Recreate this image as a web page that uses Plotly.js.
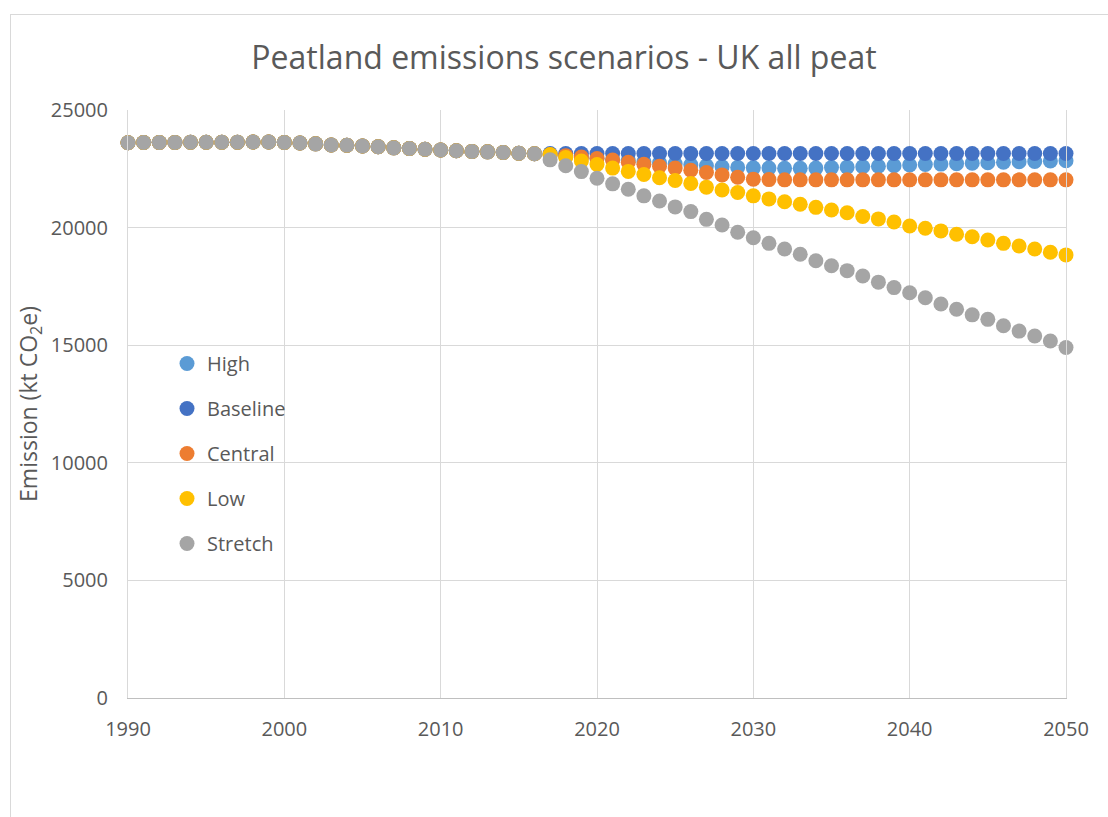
<!DOCTYPE html>
<html>
<head>
<meta charset="utf-8">
<script src="https://cdn.plot.ly/plotly-3.0.1.min.js"></script>
<style>
  html, body { margin: 0; padding: 0; background: #ffffff; overflow: hidden; }
  #frame { position: absolute; left: 10px; top: 14px; width: 1300px; height: 1000px; border: 1px solid #d9d9d9; box-sizing: border-box; z-index: 0; }
  #chart { position: absolute; left: 0; top: 0; width: 1108px; height: 817px; z-index: 1; }
</style>
</head>
<body>
<div id="frame"></div>
<div id="chart"></div>
<script>
// Shared history 1990-2016
var historyYears = [1990,1991,1992,1993,1994,1995,1996,1997,1998,1999,2000,2001,2002,2003,2004,2005,2006,2007,2008,2009,2010,2011,2012,2013,2014,2015,2016];
var historyValues = [23610,23620,23620,23620,23630,23630,23630,23630,23640,23640,23620,23600,23560,23510,23500,23470,23440,23390,23360,23330,23300,23270,23240,23220,23190,23160,23140];

// Projection years 2017-2050
var projectionYears = [2017,2018,2019,2020,2021,2022,2023,2024,2025,2026,2027,2028,2029,2030,2031,2032,2033,2034,2035,2036,2037,2038,2039,2040,2041,2042,2043,2044,2045,2046,2047,2048,2049,2050];

var seriesNames = ["High", "Baseline", "Central", "Low", "Stretch"];
var seriesColors = ["#5B9BD5", "#4472C4", "#ED7D31", "#FFC000", "#A5A5A5"];

var highValues = [23090,23050,23000,22950,22900,22850,22800,22750,22710,22670,22630,22590,22560,22540,22530,22520,22520,22530,22550,22570,22590,22610,22630,22660,22680,22700,22720,22740,22760,22780,22800,22810,22830,22840];
var baselineValues = [23150,23150,23150,23150,23150,23150,23150,23150,23150,23150,23150,23150,23150,23150,23150,23150,23150,23150,23150,23150,23150,23150,23150,23150,23150,23150,23150,23150,23150,23150,23150,23150,23150,23150];
var centralValues = [23100,23060,23000,22940,22870,22780,22690,22610,22530,22440,22340,22240,22140,22060,22040,22030,22030,22030,22030,22030,22030,22030,22030,22030,22030,22030,22030,22030,22030,22030,22030,22030,22030,22030];
var lowValues = [23110,22980,22830,22680,22530,22390,22260,22120,22000,21880,21720,21600,21490,21350,21220,21100,20990,20860,20750,20630,20470,20370,20240,20070,19970,19860,19720,19610,19470,19330,19220,19090,18950,18840];
var stretchValues = [22880,22630,22380,22100,21860,21630,21350,21130,20880,20680,20350,20110,19800,19570,19330,19090,18870,18590,18380,18170,17940,17680,17450,17230,17020,16750,16530,16290,16100,15830,15600,15390,15180,14900];

var xTickValues = [1990, 2000, 2010, 2020, 2030, 2040, 2050];
var yTickValues = [0, 5000, 10000, 15000, 20000, 25000];

var projections = [highValues, baselineValues, centralValues, lowValues, stretchValues];

var FONT = "'Open Sans', 'Noto Sans', sans-serif";
var TEXT = "#595959";

var traces = seriesNames.map(function (name, i) {
  return {
    type: "scatter",
    mode: "markers",
    name: name,
    legendgroup: name,
    x: historyYears.concat(projectionYears),
    y: historyValues.concat(projections[i]),
    cliponaxis: false,
    marker: { color: seriesColors[i], size: 15, line: { width: 0 } },
    hoverinfo: "skip"
  };
});

var layout = {
  width: 1108,
  height: 817,
  margin: { l: 128, r: 42, t: 110, b: 119 },
  paper_bgcolor: "rgba(0,0,0,0)",
  plot_bgcolor: "rgba(0,0,0,0)",
  font: { family: FONT, color: TEXT, size: 20 },
  title: {
    text: "Peatland emissions scenarios - UK all peat",
    font: { family: FONT, size: 32, color: TEXT },
    xref: "container", yref: "container",
    x: 0.509, xanchor: "center",
    y: 1 - 58 / 817, yanchor: "middle"
  },
  xaxis: {
    range: [1990, 2050],
    tickvals: xTickValues,
    tickformat: "d",
    showgrid: true,
    gridcolor: "#d9d9d9",
    gridwidth: 1,
    showline: true,
    linecolor: "#bfbfbf",
    linewidth: 1,
    zeroline: false,
    ticks: "",
    ticklabelstandoff: 13,
    tickfont: { family: FONT, size: 20, color: TEXT },
    fixedrange: true
  },
  yaxis: {
    range: [0, 25000],
    tickvals: yTickValues,
    tickformat: "d",
    showgrid: true,
    gridcolor: "#d9d9d9",
    gridwidth: 1,
    showline: true,
    mirror: true,
    linecolor: "#d9d9d9",
    linewidth: 1,
    zeroline: false,
    ticks: "",
    ticklabelstandoff: 15,
    tickfont: { family: FONT, size: 20, color: TEXT },
    title: {
      text: "Emission (kt CO<sub>2</sub>e)",
      font: { family: FONT, size: 23, color: TEXT },
      standoff: 6
    },
    fixedrange: true
  },
  showlegend: true,
  legend: {
    x: (167 - 128) / 938,
    xanchor: "left",
    y: (698 - 344) / 588,
    yanchor: "top",
    bgcolor: "rgba(0,0,0,0)",
    borderwidth: 0,
    tracegroupgap: 16,
    font: { family: FONT, size: 20, color: TEXT },
    itemclick: false,
    itemdoubleclick: false
  },
  hovermode: false
};

Plotly.newPlot("chart", traces, layout, { staticPlot: true, displayModeBar: false });
</script>
</body>
</html>
